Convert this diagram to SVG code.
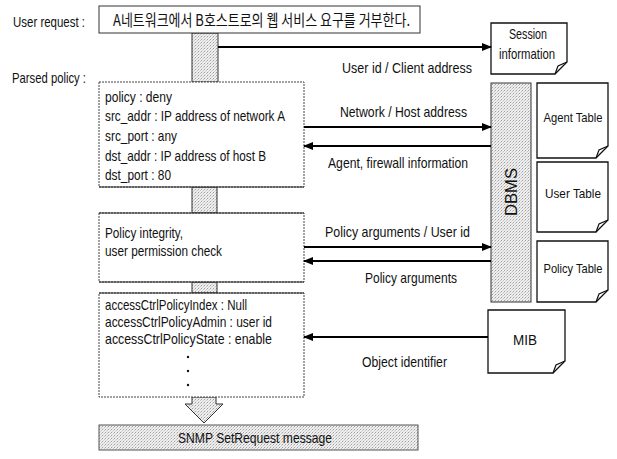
<svg xmlns="http://www.w3.org/2000/svg" width="617" height="459" viewBox="0 0 617 459">
<defs>
<pattern id="dots" width="3" height="3" patternUnits="userSpaceOnUse">
<rect width="3" height="3" fill="#eeeeee"/>
<rect width="1" height="1" fill="#a0a0a0"/>
<rect x="2" y="1" width="1" height="1" fill="#c4c4c4"/>
<rect x="1" y="2" width="1" height="1" fill="#d4d4d4"/>
</pattern>
<marker id="ah" markerUnits="userSpaceOnUse" markerWidth="10" markerHeight="8" refX="9" refY="4" orient="auto">
<path d="M0,0 L10,4 L0,8 Z" fill="#000"/>
</marker>
<style>
text{font-family:"Liberation Sans",Arial,sans-serif;fill:#111;}
.lbl{font-size:15px;}
.bt{font-size:15px;}
.tt{font-size:13px;}
.kr{font-family:"Noto Sans CJK KR","Liberation Sans",sans-serif;font-size:16px;}
.box{fill:#fff;stroke:#333;stroke-width:1;}
.dbox{fill:#fff;stroke:#444;stroke-width:1;stroke-dasharray:2 1;}
.gray{fill:url(#dots);stroke:#555;stroke-width:1;}
.bar{fill:url(#dots);stroke:#333;stroke-width:1;}
.doc{fill:#fff;stroke:#111;stroke-width:1.3;}
.conn{stroke:#000;stroke-width:2;fill:none;marker-end:url(#ah);}
.ctr{text-anchor:middle;}
</style>
</defs>

<g id="labels">
<text class="lbl" x="13" y="27" textLength="72" lengthAdjust="spacingAndGlyphs">User request :</text>
<text class="lbl" x="12" y="83" textLength="74" lengthAdjust="spacingAndGlyphs">Parsed policy :</text>
</g>

<g id="bars">
<rect class="bar" x="192" y="33" width="26" height="49"/>
<rect class="bar" x="192" y="187" width="25" height="26"/>
<rect class="bar" x="192" y="282" width="25" height="11"/>
<path class="bar" d="M192,397 H216 V404 H223 L204,423 L185,404 H192 Z"/>
</g>

<g id="user-request">
<rect class="box" x="99" y="6" width="321" height="27" stroke-width="1.2"/>
<text class="kr" x="113" y="26" textLength="297" lengthAdjust="spacingAndGlyphs">A네트워크에서 B호스트로의 웹 서비스 요구를 거부한다.</text>
</g>

<g id="parsed-policy">
<rect class="dbox" x="99" y="82" width="205" height="105"/>
<line x1="99" y1="187" x2="304" y2="187" stroke="#222" stroke-width="1.2"/>
<text class="bt" x="105" y="102" textLength="67" lengthAdjust="spacingAndGlyphs">policy : deny</text>
<text class="bt" x="105" y="121" textLength="180" lengthAdjust="spacingAndGlyphs">src_addr : IP address of network A</text>
<text class="bt" x="105" y="141" textLength="72" lengthAdjust="spacingAndGlyphs">src_port : any</text>
<text class="bt" x="105" y="161" textLength="161" lengthAdjust="spacingAndGlyphs">dst_addr : IP address of host B</text>
<text class="bt" x="105" y="180" textLength="66" lengthAdjust="spacingAndGlyphs">dst_port : 80</text>
</g>

<g id="policy-check">
<rect class="dbox" x="99" y="213" width="205" height="69"/>
<line x1="99" y1="213" x2="304" y2="213" stroke="#222" stroke-width="1.2"/>
<line x1="99" y1="282" x2="304" y2="282" stroke="#222" stroke-width="1.2"/>
<text class="bt" x="105" y="238" textLength="78" lengthAdjust="spacingAndGlyphs">Policy integrity,</text>
<text class="bt" x="105" y="256" textLength="117" lengthAdjust="spacingAndGlyphs">user permission check</text>
</g>

<g id="mib-objects">
<rect class="dbox" x="99" y="293" width="205" height="104"/>
<line x1="99" y1="293" x2="304" y2="293" stroke="#222" stroke-width="1.2"/>
<text class="bt" x="105" y="310" textLength="142" lengthAdjust="spacingAndGlyphs">accessCtrlPolicyIndex : Null</text>
<text class="bt" x="105" y="327" textLength="167" lengthAdjust="spacingAndGlyphs">accessCtrlPolicyAdmin : user id</text>
<text class="bt" x="105" y="344" textLength="167" lengthAdjust="spacingAndGlyphs">accessCtrlPolicyState : enable</text>
<circle cx="188" cy="357" r="1.2" fill="#111"/>
<circle cx="188" cy="371" r="1.2" fill="#111"/>
<circle cx="188" cy="385" r="1.2" fill="#111"/>
</g>

<g id="snmp">
<rect class="gray" x="99" y="425" width="319" height="25"/>
<text class="bt" x="178" y="443" textLength="154" lengthAdjust="spacingAndGlyphs">SNMP SetRequest message</text>
</g>

<g id="session-info">
<path class="doc" d="M491,23 H567 V62 L555,74 H491 Z"/>
<path d="M555,74 L558,66 L567,62" fill="none" stroke="#111" stroke-width="1.2"/>
<text class="bt ctr" x="528" y="39" textLength="38" lengthAdjust="spacingAndGlyphs">Session</text>
<text class="bt ctr" x="527" y="59" textLength="56" lengthAdjust="spacingAndGlyphs">information</text>
</g>

<g id="dbms">
<rect class="bar" x="491" y="83" width="40" height="219"/>
<text class="ctr" font-size="16" transform="translate(517,192) rotate(-90)" x="0" y="0" textLength="48" lengthAdjust="spacingAndGlyphs">DBMS</text>
</g>

<g id="agent-table">
<path class="doc" d="M537,83 H608 V146 L596,158 H537 Z"/>
<path d="M596,158 L599,150 L608,146" fill="none" stroke="#111" stroke-width="1.2"/>
<text class="tt ctr" x="573" y="122" textLength="59" lengthAdjust="spacingAndGlyphs">Agent Table</text>
</g>

<g id="user-table">
<path class="doc" d="M537,162 H608 V220 L596,232 H537 Z"/>
<path d="M596,232 L599,224 L608,220" fill="none" stroke="#111" stroke-width="1.2"/>
<text class="tt ctr" x="573" y="198" textLength="56" lengthAdjust="spacingAndGlyphs">User Table</text>
</g>

<g id="policy-table">
<path class="doc" d="M537,241 H608 V290 L596,302 H537 Z"/>
<path d="M596,302 L599,294 L608,290" fill="none" stroke="#111" stroke-width="1.2"/>
<text class="tt ctr" x="573" y="273" textLength="59" lengthAdjust="spacingAndGlyphs">Policy Table</text>
</g>

<g id="mib">
<path class="doc" d="M488,310 H565 V361 L553,373 H488 Z"/>
<path d="M553,373 L556,365 L565,361" fill="none" stroke="#111" stroke-width="1.2"/>
<text class="bt" x="513" y="345" textLength="24" lengthAdjust="spacingAndGlyphs">MIB</text>
</g>

<g id="connectors">
<line class="conn" x1="218" y1="47" x2="491" y2="47"/>
<line class="conn" x1="304" y1="127" x2="491" y2="127"/>
<line class="conn" x1="491" y1="146" x2="304" y2="146"/>
<line class="conn" x1="304" y1="247" x2="491" y2="247"/>
<line class="conn" x1="491" y1="261" x2="304" y2="261"/>
<line class="conn" x1="488" y1="337" x2="304" y2="337"/>
<text class="bt" x="342" y="73" textLength="130" lengthAdjust="spacingAndGlyphs">User id / Client address</text>
<text class="bt" x="340" y="117" textLength="127" lengthAdjust="spacingAndGlyphs">Network / Host address</text>
<text class="bt" x="328" y="168" textLength="140" lengthAdjust="spacingAndGlyphs">Agent, firewall information</text>
<text class="bt" x="325" y="237" textLength="145" lengthAdjust="spacingAndGlyphs">Policy arguments / User id</text>
<text class="bt" x="365" y="283" textLength="92" lengthAdjust="spacingAndGlyphs">Policy arguments</text>
<text class="bt" x="362" y="367" textLength="85" lengthAdjust="spacingAndGlyphs">Object identifier</text>
</g>
</svg>
